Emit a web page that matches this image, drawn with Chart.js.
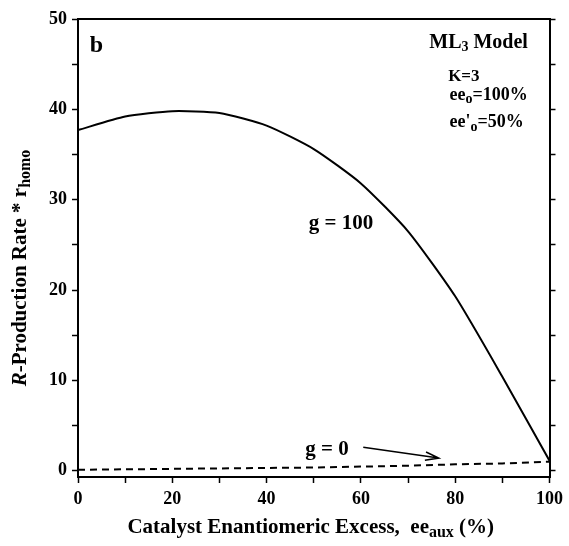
<!DOCTYPE html>
<html>
<head>
<meta charset="utf-8">
<script src="https://cdn.jsdelivr.net/npm/chart.js@4"></script>
<style>
  html, body { margin: 0; padding: 0; background: #fff; }
  #wrap { width: 569px; height: 546px; }
</style>
</head>
<body>
<div id="wrap"><canvas id="chart" width="569" height="546"></canvas></div>
<script>
// catalyst enantiomeric excess ee_aux (%)
const eeAux = [0, 10, 20, 30, 40, 50, 60, 70, 80, 90, 100];
// R-production rate * r_homo
const rateG100 = [37.7, 39.2, 39.8, 39.6, 38.2, 35.6, 31.8, 26.5, 19.3, 10.4, 1.1];
const rateG0 = [0.1, 0.15, 0.2, 0.25, 0.3, 0.35, 0.45, 0.55, 0.7, 0.8, 1.0];
// axis ticks (labels only on every other one)
const xTicks = [0, 10, 20, 30, 40, 50, 60, 70, 80, 90, 100];
const yTicks = [0, 5, 10, 15, 20, 25, 30, 35, 40, 45, 50];

const SERIF = "'Liberation Serif', 'Times New Roman', serif";

// draw a run of text pieces (with subscripts) starting at x
function drawRich(ctx, parts, x, y, align) {
    let total = 0;
    parts.forEach(p => { ctx.font = p.font; total += ctx.measureText(p.t).width; });
    let cx = align === 'center' ? x - total / 2 : (align === 'right' ? x - total : x);
    parts.forEach(p => {
        ctx.font = p.font;
        ctx.fillText(p.t, cx, y + (p.dy || 0));
        cx += ctx.measureText(p.t).width;
    });
}

const textPlugin = {
    id: 'texts',
    afterDraw(chart) {
        const ctx = chart.ctx;
        const xs = chart.scales.x, ys = chart.scales.y;
        const B = n => 'bold ' + n + 'px ' + SERIF;
        ctx.save();
        ctx.fillStyle = '#000';
        ctx.textBaseline = 'middle';

        // panel letter and model box
        drawRich(ctx, [{ t: 'b', font: B(24) }], xs.getPixelForValue(2.5), ys.getPixelForValue(47), 'left');
        drawRich(ctx, [
            { t: 'ML', font: B(20) }, { t: '3', font: B(14), dy: 5 }, { t: ' Model', font: B(20) }
        ], xs.getPixelForValue(74.5), ys.getPixelForValue(47.4), 'left');
        drawRich(ctx, [{ t: 'K=3', font: B(17) }], xs.getPixelForValue(78.5), ys.getPixelForValue(43.6), 'left');
        drawRich(ctx, [
            { t: 'ee', font: B(18) }, { t: 'o', font: B(14), dy: 5 }, { t: '=100%', font: B(18) }
        ], xs.getPixelForValue(78.8), ys.getPixelForValue(41.6), 'left');
        drawRich(ctx, [
            { t: "ee'", font: B(18) }, { t: 'o', font: B(14), dy: 5 }, { t: '=50%', font: B(18) }
        ], xs.getPixelForValue(78.8), ys.getPixelForValue(38.6), 'left');

        // curve labels
        drawRich(ctx, [{ t: 'g = 100', font: B(21) }], xs.getPixelForValue(55.8), ys.getPixelForValue(27.4), 'center');
        drawRich(ctx, [{ t: 'g = 0', font: B(21) }], xs.getPixelForValue(52.8), ys.getPixelForValue(2.3), 'center');

        // arrow from g = 0 label to the dashed line
        const x0 = xs.getPixelForValue(60.5), y0 = ys.getPixelForValue(2.6);
        const x1 = xs.getPixelForValue(76.5), y1 = ys.getPixelForValue(1.4);
        const a = Math.atan2(y1 - y0, x1 - x0);
        ctx.strokeStyle = '#000';
        ctx.lineWidth = 1.6;
        ctx.beginPath();
        ctx.moveTo(x0, y0); ctx.lineTo(x1, y1);
        ctx.moveTo(x1 - 14 * Math.cos(a - 0.3), y1 - 14 * Math.sin(a - 0.3));
        ctx.lineTo(x1, y1);
        ctx.lineTo(x1 - 14 * Math.cos(a + 0.3), y1 - 14 * Math.sin(a + 0.3));
        ctx.stroke();

        // x axis title
        drawRich(ctx, [
            { t: 'Catalyst Enantiomeric Excess,  ee', font: B(21) },
            { t: 'aux', font: B(16), dy: 5 },
            { t: ' (%)', font: B(21) }
        ], (xs.left + xs.right) / 2 - 3, 528, 'center');

        // y axis title, rotated
        ctx.translate(21, (ys.top + ys.bottom) / 2 + 20);
        ctx.rotate(-Math.PI / 2);
        drawRich(ctx, [
            { t: 'R', font: 'italic ' + B(21) },
            { t: '-Production Rate * r', font: B(21) },
            { t: 'homo', font: B(16), dy: 5 }
        ], 0, 0, 'center');
        ctx.restore();
    }
};

const axisLine = { color: '#000', width: 2 };
const tickGrid = { drawOnChartArea: false, drawTicks: true, tickLength: 6, tickColor: '#000', tickWidth: 1.5, color: '#000' };
const tickFont = { family: SERIF, size: 18, weight: 'bold' };
const setTicks = list => s => { s.ticks = list.map(v => ({ value: v })); };

new Chart(document.getElementById('chart'), {
    type: 'line',
    data: {
        datasets: [{
            label: 'g = 100',
            data: eeAux.map((v, i) => ({ x: v, y: rateG100[i] })),
            borderColor: '#000',
            borderWidth: 2,
            pointRadius: 0,
            tension: 0.2,
            fill: false
        }, {
            label: 'g = 0',
            data: eeAux.map((v, i) => ({ x: v, y: rateG0[i] })),
            borderColor: '#000',
            borderWidth: 2,
            borderDash: [7, 5],
            pointRadius: 0,
            tension: 0,
            fill: false
        }]
    },
    options: {
        responsive: false,
        animation: false,
        layout: { padding: { top: 19, left: 0, right: 0, bottom: 0 } },
        plugins: { legend: { display: false }, tooltip: { enabled: false } },
        scales: {
            x: {
                type: 'linear', position: 'bottom', min: 0, max: 100,
                ticks: {
                    color: '#000', font: tickFont, padding: 6, maxRotation: 0, autoSkip: false,
                    callback: v => (v % 20 === 0 ? String(v) : '')
                },
                afterBuildTicks: setTicks(xTicks),
                grid: tickGrid, border: axisLine,
                afterFit: s => { s.height = 69; }
            },
            xTop: {
                type: 'linear', position: 'top', min: 0, max: 100,
                ticks: { display: false },
                grid: { display: false },
                border: axisLine,
                afterFit: s => { s.height = 0; }
            },
            y: {
                type: 'linear', position: 'left', min: -0.7, max: 50,
                ticks: {
                    color: '#000', font: tickFont, padding: 5, autoSkip: false,
                    callback: v => (v % 10 === 0 ? String(v) : '')
                },
                afterBuildTicks: setTicks(yTicks),
                grid: tickGrid, border: axisLine,
                afterFit: s => { s.width = 78; }
            },
            yRight: {
                type: 'linear', position: 'right', min: -0.7, max: 50,
                ticks: { autoSkip: false, callback: () => '' },
                afterBuildTicks: setTicks(yTicks),
                grid: tickGrid, border: axisLine,
                afterFit: s => { s.width = 15; }
            }
        }
    },
    plugins: [textPlugin]
});
</script>
</body>
</html>
